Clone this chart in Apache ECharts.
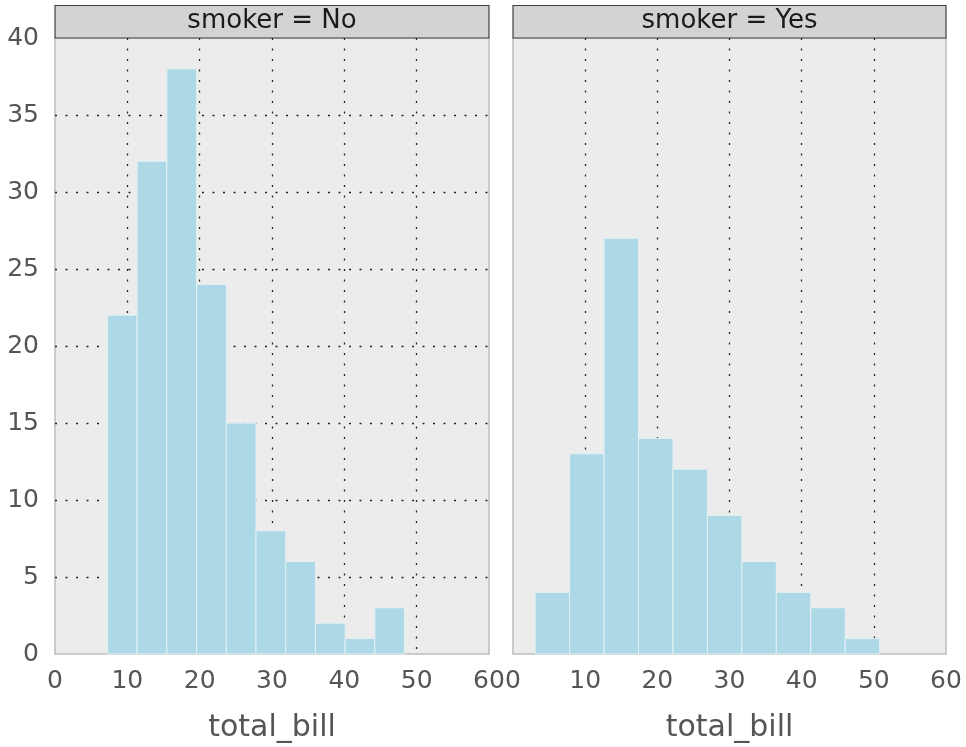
<!DOCTYPE html>
<html>
<head>
<meta charset="utf-8">
<script src="https://cdn.jsdelivr.net/npm/echarts@6/dist/echarts.min.js"></script>
<style>
  html, body { margin: 0; padding: 0; background: #ffffff; }
  #chart { width: 966px; height: 747px; }
</style>
</head>
<body>
<div id="chart"></div>
<script>
// Histogram of total_bill, one panel per smoker group (10 bins each).
const panelTitles = ['smoker = No', 'smoker = Yes'];

// Bin edges and counts, smoker = No
const binEdgesNo = [7.25, 11.358, 15.466, 19.574, 23.682, 27.79, 31.898, 36.006, 40.114, 44.222, 48.33];
const countsNo = [22, 32, 38, 24, 15, 8, 6, 2, 1, 3];

// Bin edges and counts, smoker = Yes
const binEdgesYes = [3.07, 7.844, 12.618, 17.392, 22.166, 26.94, 31.714, 36.488, 41.262, 46.036, 50.81];
const countsYes = [4, 13, 27, 14, 12, 9, 6, 4, 3, 1];

const xTicks = [0, 10, 20, 30, 40, 50, 60];
const yTicks = [0, 5, 10, 15, 20, 25, 30, 35, 40];
const xTitle = 'total_bill';

function toBins(edges, counts) {
  return counts.map((c, i) => [edges[i], edges[i + 1], c]);
}

const FONT = '"DejaVu Sans", sans-serif';
const grids = [
  { left: 55, right: 477, top: 38, bottom: 93 },
  { left: 513, right: 20, top: 38, bottom: 93 }
];

function renderBar(params, api) {
  const topLeft = api.coord([api.value(0), api.value(2)]);
  const bottomRight = api.coord([api.value(1), 0]);
  return {
    type: 'rect',
    shape: {
      x: topLeft[0],
      y: topLeft[1],
      width: bottomRight[0] - topLeft[0],
      height: bottomRight[1] - topLeft[1]
    },
    style: { fill: '#add8e6', stroke: '#e4f0f3', lineWidth: 1 }
  };
}

const gridLine = {
  show: true, showMinLine: false, showMaxLine: false,
  lineStyle: { color: '#222', width: 1.3, type: [2, 8.5] }
};

function xAxis(i) {
  return {
    type: 'value', gridIndex: i,
    min: xTicks[0], max: xTicks[xTicks.length - 1], interval: xTicks[1] - xTicks[0],
    axisLine: { show: false }, axisTick: { show: false },
    axisLabel: { color: '#555', fontSize: 25, fontFamily: FONT, margin: 15, showMinLabel: true, showMaxLabel: true },
    splitLine: gridLine,
    name: xTitle, nameLocation: 'middle', nameGap: 59,
    nameTextStyle: { color: '#555', fontSize: 30, fontFamily: FONT }
  };
}

function yAxis(i) {
  return {
    type: 'value', gridIndex: i,
    min: yTicks[0], max: yTicks[yTicks.length - 1], interval: yTicks[1] - yTicks[0],
    axisLine: { show: false }, axisTick: { show: false },
    axisLabel: { show: i === 0, color: '#555', fontSize: 25, fontFamily: FONT, margin: 16 },
    splitLine: i === 0 ? gridLine : { show: false }
  };
}

function strip(i) {
  const g = grids[i];
  const x = g.left;
  const w = 966 - g.left - g.right;
  return {
    type: 'group',
    children: [
      { type: 'rect', shape: { x: x, y: 5.5, width: w, height: 32.5 },
        style: { fill: '#d3d3d3', stroke: '#404040', lineWidth: 1.2 } },
      { type: 'text', x: x + w / 2, y: 21.5,
        style: { text: panelTitles[i], fill: '#1a1a1a', font: '26px ' + FONT, align: 'center', verticalAlign: 'middle' } }
    ]
  };
}

const chart = echarts.init(document.getElementById('chart'), null, { renderer: 'canvas' });
chart.setOption({
  animation: false,
  backgroundColor: '#ffffff',
  grid: grids.map(g => Object.assign({
    show: true, backgroundColor: '#ececec', borderColor: '#bdbdbd', borderWidth: 1.5,
    containLabel: false, outerBoundsMode: 'none'
  }, g)),
  xAxis: [xAxis(0), xAxis(1)],
  yAxis: [yAxis(0), yAxis(1)],
  series: [
    { type: 'custom', xAxisIndex: 0, yAxisIndex: 0, renderItem: renderBar,
      encode: { x: [0, 1], y: 2 }, data: toBins(binEdgesNo, countsNo) },
    { type: 'custom', xAxisIndex: 1, yAxisIndex: 1, renderItem: renderBar,
      encode: { x: [0, 1], y: 2 }, data: toBins(binEdgesYes, countsYes) }
  ],
  graphic: [strip(0), strip(1)]
});
</script>
</body>
</html>
